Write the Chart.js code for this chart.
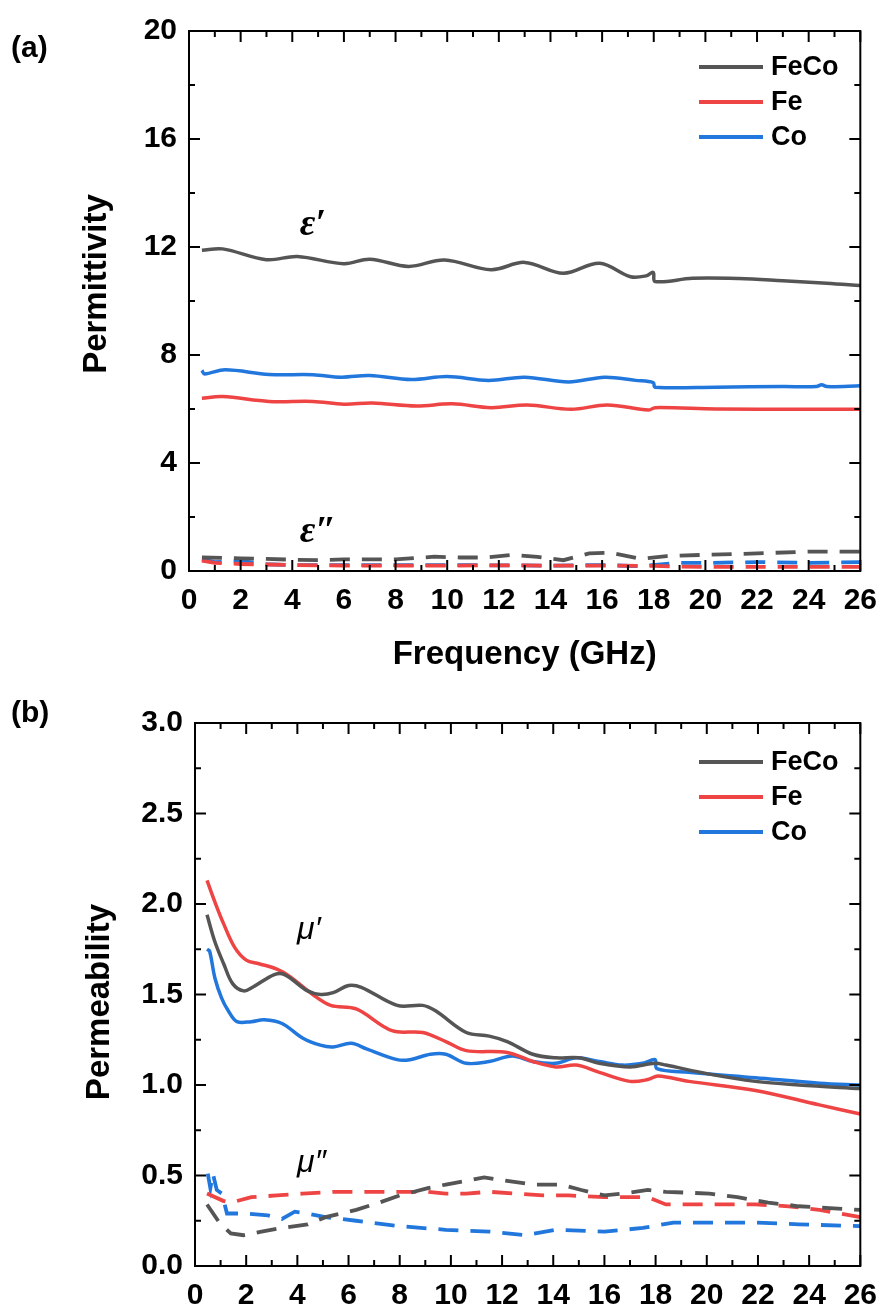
<!DOCTYPE html>
<html><head><meta charset="utf-8">
<script src="https://cdn.jsdelivr.net/npm/chart.js@4"></script>
<style>
html,body{margin:0;padding:0;background:#fff;width:889px;height:1306px;overflow:hidden}
#wa{position:absolute;left:0;top:0;width:889px;height:690px}
#wb{position:absolute;left:0;top:690px;width:889px;height:616px}
</style></head><body>
<div id="wa"><canvas id="ca"></canvas></div>
<div id="wb"><canvas id="cb"></canvas></div>
<script>
// ---------- Data: panel (a) permittivity ----------
const seriesNames = ['FeCo', 'Fe', 'Co'];
const xTicksA = [0,2,4,6,8,10,12,14,16,18,20,22,24,26];
const yTicksA = [0,4,8,12,16,20];
const yTicksB = [0.0,0.5,1.0,1.5,2.0,2.5,3.0];

const fEpsRealFeCo = [0.5,1.3,3.0,4.2,6.0,7.0,8.5,9.9,11.7,13.0,14.5,15.9,17.1,17.7,17.98,18.05,19.5,21.3,23.0,24.7,26];
const epsRealFeCo  = [11.88,11.93,11.53,11.65,11.38,11.55,11.28,11.52,11.16,11.43,11.03,11.4,10.9,10.93,11.06,10.72,10.84,10.83,10.75,10.66,10.57];
const fEpsRealFe = [0.5,1.3,3.1,4.8,6.0,7.1,8.8,10.2,11.7,13.1,14.8,16.2,17.8,18.05,20.4,23.8,26];
const epsRealFe  = [6.4,6.46,6.28,6.28,6.18,6.22,6.11,6.19,6.05,6.15,5.99,6.15,5.96,6.05,6.0,5.99,5.99];
const fEpsRealCo = [0.5,0.6,1.4,3.1,4.8,5.9,7.0,8.6,10.0,11.6,13.0,14.7,16.1,17.3,17.98,18.05,20.4,23.0,24.3,24.5,24.7,26];
const epsRealCo  = [7.43,7.3,7.45,7.28,7.27,7.18,7.24,7.09,7.2,7.06,7.18,7.0,7.18,7.06,6.98,6.81,6.81,6.83,6.83,6.9,6.83,6.86];

const fEpsImagFeCo = [0.5,2,4,5,6,8,9.5,10.5,11.5,12.5,13.5,14.5,15.5,16.3,17.5,18.5,20,22,24,26];
const epsImagFeCo  = [0.5,0.47,0.42,0.4,0.43,0.43,0.53,0.5,0.5,0.6,0.52,0.4,0.65,0.68,0.45,0.55,0.6,0.65,0.72,0.72];
const fEpsImagFe = [0.5,1,2,3,4,6,8,10,12,14,16,18,19,20,22,24,26];
const epsImagFe  = [0.38,0.3,0.26,0.24,0.22,0.2,0.2,0.2,0.21,0.2,0.2,0.19,0.16,0.15,0.15,0.15,0.15];
const fEpsImagCo = [0.5,1.0,2.0,3.0,4.0,6,8,10,12,14,16,17.5,19,20,22,24,26];
const epsImagCo  = [0.43,0.33,0.37,0.25,0.22,0.22,0.22,0.22,0.21,0.2,0.22,0.18,0.3,0.3,0.33,0.3,0.33];

// ---------- Data: panel (b) permeability ----------
const fMuRealFeCo = [0.47,0.78,1.12,1.47,1.9,2.25,3.1,3.5,4.4,4.9,5.4,6.0,6.5,7.9,8.9,9.4,10.6,11.5,12.2,13.2,14.1,15.0,15.8,17.0,17.98,18.4,20.1,21.9,23.6,26];
const muRealFeCo  = [1.94,1.79,1.67,1.56,1.52,1.54,1.61,1.61,1.52,1.50,1.51,1.55,1.54,1.44,1.44,1.41,1.29,1.27,1.24,1.17,1.15,1.15,1.12,1.10,1.12,1.11,1.06,1.02,1.0,0.98];
const fMuRealFe = [0.47,0.78,1.12,1.55,2.0,2.5,3.2,3.7,4.6,5.3,6.3,7.7,8.9,9.8,10.6,12.2,13.2,14.1,14.9,15.8,17.0,17.7,18.1,19.3,21.9,24.4,26];
const muRealFe  = [2.13,2.01,1.89,1.76,1.69,1.67,1.64,1.60,1.50,1.44,1.42,1.30,1.29,1.24,1.19,1.18,1.13,1.10,1.11,1.07,1.02,1.03,1.05,1.02,0.97,0.89,0.84];
const fMuRealCo = [0.47,0.57,0.78,1.04,1.3,1.64,2.2,2.7,3.4,4.2,4.9,5.4,6.1,6.7,7.9,8.4,9.2,9.8,10.6,11.5,12.4,13.2,14.1,14.9,15.8,16.7,17.5,17.98,18.05,19.3,21.9,24.4,26];
const muRealCo  = [1.75,1.74,1.59,1.48,1.41,1.35,1.35,1.36,1.34,1.26,1.22,1.21,1.23,1.20,1.14,1.14,1.17,1.17,1.12,1.13,1.16,1.13,1.12,1.15,1.13,1.11,1.12,1.14,1.09,1.07,1.04,1.01,1.0];

const fMuImagFeCo = [0.47,0.95,1.4,1.9,2.6,3.4,4.4,5.1,6.3,7.2,8.0,9.1,9.8,10.6,11.3,12.2,13.2,14.3,15.1,16.0,16.7,17.7,18.4,20.1,21.2,22.4,23.6,24.8,26];
const muImagFeCo  = [0.34,0.24,0.18,0.17,0.19,0.21,0.23,0.27,0.31,0.35,0.39,0.43,0.45,0.47,0.49,0.47,0.45,0.45,0.42,0.39,0.40,0.42,0.41,0.40,0.38,0.35,0.33,0.32,0.31];
const fMuImagFe = [0.47,1.1,1.4,2.2,3.2,4.2,5.4,6.6,8.0,9.1,9.8,10.6,11.5,12.5,13.6,14.6,16.0,17.7,18.4,20.1,21.9,23.2,24.4,26];
const muImagFe  = [0.40,0.36,0.35,0.38,0.39,0.40,0.41,0.41,0.41,0.41,0.40,0.40,0.41,0.40,0.39,0.39,0.38,0.38,0.34,0.34,0.34,0.33,0.31,0.27];
const fMuImagCo = [0.5,0.6,0.7,0.85,1.05,1.25,2.0,2.85,3.4,3.9,4.4,5.1,6.3,8.0,9.8,11.5,12.9,14.1,16.0,17.5,18.7,20.1,21.9,23.6,26];
const muImagCo  = [0.51,0.43,0.51,0.42,0.40,0.29,0.29,0.28,0.26,0.30,0.29,0.27,0.25,0.22,0.20,0.19,0.17,0.20,0.19,0.21,0.24,0.24,0.24,0.23,0.22];

// ---------- Style ----------
const colors = {FeCo:'#555555', Fe:'#ee4444', Co:'#2277dd'};
const FONT = "'Liberation Sans', Arial, sans-serif";
Chart.defaults.font.family = FONT;

function pts(xs, ys){ return xs.map((x,i)=>({x:x, y:ys[i]})); }
function solid(name, xs, ys){
  return {label:name, data:pts(xs,ys), borderColor:colors[name], borderWidth:3.5, pointRadius:0, tension:0.35, fill:false};
}
function dashed(name, xs, ys){
  return {label:name+'_d', data:pts(xs,ys), borderColor:colors[name], borderWidth:3.8, pointRadius:0, tension:0, borderDash:[20,12], fill:false};
}

const framePlugin = {
  id:'frame',
  afterDraw(chart, args, o){
    const {ctx, chartArea:a} = chart;
    const x = chart.scales.x, y = chart.scales.y;
    ctx.save();
    ctx.strokeStyle = '#000'; ctx.lineWidth = 2;
    ctx.strokeRect(a.left, a.top, a.right - a.left, a.bottom - a.top);
    const seg = (x1,y1,x2,y2)=>{ctx.beginPath();ctx.moveTo(x1,y1);ctx.lineTo(x2,y2);ctx.stroke();};
    const nx = Math.round((x.max - x.min)/o.xMinor);
    for (let i=0;i<=nx;i++){
      const v = x.min + i*o.xMinor;
      const major = (i % o.xEvery) === 0;
      const L = major ? 11 : 6, px = x.getPixelForValue(v);
      seg(px, a.bottom, px, a.bottom - L); seg(px, a.top, px, a.top + L);
    }
    const ny = Math.round((y.max - y.min)/o.yMinor);
    for (let i=0;i<=ny;i++){
      const v = y.min + i*o.yMinor;
      const major = (i % o.yEvery) === 0;
      const L = major ? 11 : 6, py = y.getPixelForValue(v);
      seg(a.left, py, a.left + L, py); seg(a.right, py, a.right - L, py);
    }
    // titles
    ctx.fillStyle = '#000';
    if (o.xTitle){
      ctx.font = "bold 33px " + FONT; ctx.textAlign='center'; ctx.textBaseline='middle';
      ctx.fillText(o.xTitle, (a.left+a.right)/2, o.xTitleY);
    }
    ctx.save();
    ctx.translate(o.yTitleX, o.yTitleY); ctx.rotate(-Math.PI/2);
    ctx.font = "bold 33px " + FONT; ctx.textAlign='center'; ctx.textBaseline='middle';
    ctx.fillText(o.yTitle, 0, 0);
    ctx.restore();
    // panel label
    ctx.font = "bold 30px " + FONT; ctx.textAlign='left'; ctx.textBaseline='middle';
    ctx.fillText(o.panel, 11, o.panelY);
    // annotations
    o.notes.forEach(n=>{
      ctx.font = n.font; ctx.textAlign='left'; ctx.textBaseline='alphabetic';
      ctx.fillText(n.text, x.getPixelForValue(n.x), y.getPixelForValue(n.y));
    });
    // legend
    o.legendY.forEach((ly,i)=>{
      const name = seriesNames[i];
      ctx.strokeStyle = colors[name]; ctx.lineWidth = 4;
      seg(o.legendX, ly, o.legendX + 64, ly);
      ctx.font = "bold 27px " + FONT; ctx.fillStyle='#000'; ctx.textAlign='left'; ctx.textBaseline='middle';
      ctx.fillText(name, o.legendX + 72, ly + 1);
    });
    ctx.restore();
  }
};

function makeChart(id, datasets, cfg){
  return new Chart(document.getElementById(id), {
    type:'line',
    data:{datasets},
    plugins:[framePlugin],
    options:{
      responsive:true, maintainAspectRatio:false, animation:false, devicePixelRatio:1,
      layout:{padding:{top:cfg.top, right:cfg.right, left:0, bottom:0}},
      plugins:{legend:{display:false}, tooltip:{enabled:false}, frame:cfg.frame},
      scales:{
        x:{type:'linear', min:0, max:26, grid:{display:false, drawTicks:false}, border:{display:false},
           afterBuildTicks:s=>{ s.ticks = xTicksA.map(v=>({value:v})); },
           ticks:{font:{size:30, weight:'bold'}, color:'#000', padding:cfg.xPad, maxRotation:0, autoSkip:false},
           afterFit:s=>{ s.height = cfg.xH; }},
        y:{type:'linear', min:cfg.yMin, max:cfg.yMax, grid:{display:false, drawTicks:false}, border:{display:false},
           afterBuildTicks:s=>{ s.ticks = cfg.yTicks.map(v=>({value:v})); },
           ticks:{font:{size:30, weight:'bold'}, color:'#000', padding:12, callback:cfg.yFmt},
           afterFit:s=>{ s.width = cfg.yW; }}
      }
    }
  });
}

makeChart('ca', [
  dashed('FeCo', fEpsImagFeCo, epsImagFeCo),
  dashed('Fe', fEpsImagFe, epsImagFe),
  dashed('Co', fEpsImagCo, epsImagCo),
  solid('FeCo', fEpsRealFeCo, epsRealFeCo),
  solid('Fe', fEpsRealFe, epsRealFe),
  solid('Co', fEpsRealCo, epsRealCo)
], {top:31, right:27, xH:119, yW:189, xPad:12, yMin:0, yMax:20, yTicks:yTicksA, yFmt:v=>String(v),
  frame:{xMinor:1, xEvery:2, yMinor:2, yEvery:2, xTitle:'Frequency (GHz)', xTitleY:655,
    yTitle:'Permittivity', yTitleX:97, yTitleY:284, panel:'(a)', panelY:49,
    legendX:699, legendY:[67,102,137],
    notes:[{text:'ε′', x:4.29, y:12.44, font:"bold italic 38px 'Liberation Serif', serif"},
           {text:'ε″', x:4.29, y:1.07, font:"bold italic 38px 'Liberation Serif', serif"}]}
});

makeChart('cb', [
  dashed('FeCo', fMuImagFeCo, muImagFeCo),
  dashed('Fe', fMuImagFe, muImagFe),
  dashed('Co', fMuImagCo, muImagCo),
  solid('FeCo', fMuRealFeCo, muRealFeCo),
  solid('Fe', fMuRealFe, muRealFe),
  solid('Co', fMuRealCo, muRealCo)
], {top:33, right:23, xH:40, yW:195, xPad:12, yMin:0, yMax:3, yTicks:yTicksB, yFmt:v=>Number(v).toFixed(1),
  frame:{xMinor:1, xEvery:2, yMinor:0.25, yEvery:2, xTitle:null,
    yTitle:'Permeability', yTitleX:100, yTitleY:312, panel:'(b)', panelY:24,
    legendX:699, legendY:[72,107,142],
    notes:[{text:'μ′', x:3.99, y:1.807, font:"italic 32px 'Liberation Sans', Arial, sans-serif"},
           {text:'μ″', x:3.99, y:0.519, font:"italic 32px 'Liberation Sans', Arial, sans-serif"}]}
});
</script>
</body></html>
